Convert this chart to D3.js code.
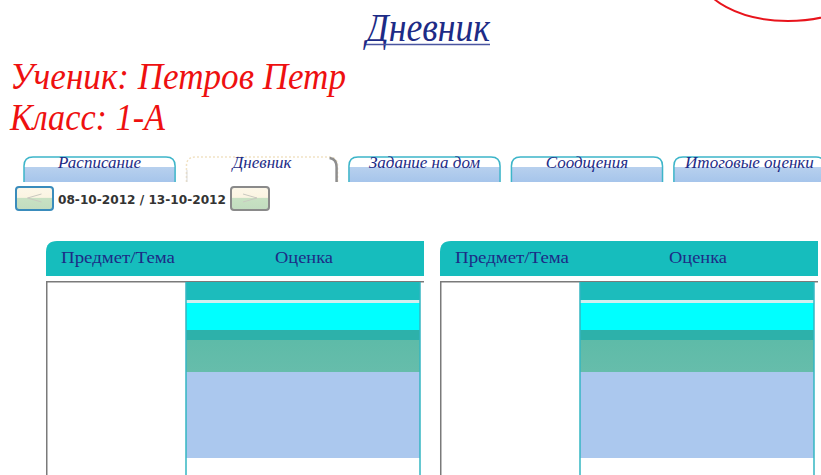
<!DOCTYPE html>
<html lang="ru">
<head>
<meta charset="UTF-8">
<title>Дневник</title>
<script src="https://cdn.jsdelivr.net/npm/d3@7"></script>
<style>
body { margin: 0; background: #fff; }
</style>
</head>
<body>
<div id="page"></div>
<script>
const pageTitle = "Дневник"
const studentLabel = "Ученик:"
const studentName = "Петров Петр"
const classLabel = "Класс:"
const className = "1-А"
const tabs = ["Расписание", "Дневник", "Задание на дом", "Соодщения", "Итоговые оценки"]
const activeTab = "Дневник"
const weekRange = ["08-10-2012", "13-10-2012"]
const columns = ["Предмет/Тема", "Оценка"]
const days = ["Понедельник", "Вторник"]

const width = 821
const height = 475
const navy = "#1d2b86"
const script = "'Liberation Serif', 'DejaVu Serif', serif"

const svg = d3.select("#page")
    .append("svg")
    .attr("width", width)
    .attr("height", height)
    .style("display", "block")

const defs = svg.append("defs")

// gradients with hard stops
const hardGradient = (id, stops) => {
    const g = defs.append("linearGradient")
        .attr("id", id)
        .attr("x1", 0).attr("y1", 0).attr("x2", 0).attr("y2", 1)
    stops.forEach(s => {
        g.append("stop").attr("offset", s[0]).attr("stop-color", s[1])
    })
}
hardGradient("tabFill", [[0, "#ffffff"], [0.4, "#ffffff"], [0.42, "#b7d0ee"], [1, "#a6c5eb"]])
hardGradient("btnFill", [[0, "#fcf7e9"], [0.45, "#fbf4e2"], [0.5, "#c8e1c3"], [1, "#c2dcbf"]])
hardGradient("gradeFill", [
    [0, "#1cbcbc"], [0.092, "#1cbcbc"], [0.093, "#cfefef"], [0.108, "#cfefef"],
    [0.109, "#00ffff"], [0.248, "#00ffff"], [0.249, "#2db1aa"], [0.3, "#2db1aa"],
    [0.301, "#5ebba8"], [0.465, "#66bdab"], [0.466, "#abc8ee"], [0.91, "#abc8ee"],
    [0.911, "#ffffff"], [1, "#ffffff"]
])

// red ellipse in the top right corner
svg.append("ellipse")
    .attr("cx", 788).attr("cy", -26)
    .attr("rx", 87).attr("ry", 47)
    .attr("fill", "none")
    .attr("stroke", "#e8141c")
    .attr("stroke-width", 2)

// title
svg.append("text")
    .attr("x", 428).attr("y", 41)
    .attr("text-anchor", "middle")
    .attr("font-family", script)
    .attr("font-style", "italic")
    .attr("font-size", 40)
    .attr("fill", navy)
    .attr("textLength", 124)
    .attr("lengthAdjust", "spacingAndGlyphs")
    .text(pageTitle)
svg.append("line")
    .attr("x1", 366).attr("x2", 490)
    .attr("y1", 44.5).attr("y2", 44.5)
    .attr("stroke", "#4a55a0")
    .attr("stroke-width", 1.5)

// student and class
const info = [[studentLabel + " " + studentName, 89, 336], [classLabel + " " + className, 130, 155]]
svg.selectAll("text.info")
    .data(info)
    .enter()
    .append("text")
    .attr("class", "info")
    .attr("x", 10)
    .attr("y", d => d[1])
    .attr("font-family", script)
    .attr("font-style", "italic")
    .attr("font-size", 38)
    .attr("fill", "#ee1010")
    .attr("textLength", d => d[2])
    .attr("lengthAdjust", "spacingAndGlyphs")
    .text(d => d[0])

// tabs
const tabX = d3.scaleBand()
    .domain(tabs)
    .range([24, 825])
    .paddingInner(0.07)
const tabTop = 157
const tabBottom = 182
const tabPath = (x, w, r) => `M${x},${tabBottom}V${tabTop + r}Q${x},${tabTop} ${x + r},${tabTop}` +
    `H${x + w - r}Q${x + w},${tabTop} ${x + w},${tabTop + r}V${tabBottom}`

const tab = svg.selectAll("g.tab")
    .data(tabs)
    .enter()
    .append("g")
    .attr("class", "tab")
tab.append("path")
    .attr("d", d => tabPath(tabX(d), tabX.bandwidth(), 9))
    .attr("fill", d => d === activeTab ? "#fff" : "url(#tabFill)")
    .attr("stroke", d => d === activeTab ? "#f1e2c4" : "#3db5c9")
    .attr("stroke-width", 1.5)
    .attr("stroke-dasharray", d => d === activeTab ? "2,2" : null)
tab.filter(d => d === activeTab)
    .append("path")
    .attr("d", d => {
        const x = tabX(d) + tabX.bandwidth()
        return `M${x - 8},${tabTop + 1}Q${x - 1},${tabTop + 2} ${x - 1},${tabTop + 10}V${tabBottom}`
    })
    .attr("fill", "none")
    .attr("stroke", "#8e8e8e")
    .attr("stroke-width", 2.5)
tab.filter(d => d === activeTab)
    .append("line")
    .attr("x1", d => tabX(d) + 0.5).attr("x2", d => tabX(d) + 0.5)
    .attr("y1", 170).attr("y2", tabBottom)
    .attr("stroke", "#d8d8d8")
tab.append("text")
    .attr("x", d => tabX(d) + tabX.bandwidth() / 2)
    .attr("y", 168)
    .attr("text-anchor", "middle")
    .attr("font-family", script)
    .attr("font-style", "italic")
    .attr("font-size", 17)
    .attr("fill", navy)
    .text(d => d)

// week navigation
const buttons = [{x: 16, w: 37, stroke: "#3a8cbc", dir: -1}, {x: 231, w: 38, stroke: "#8a8a8a", dir: 1}]
const btn = svg.selectAll("g.btn")
    .data(buttons)
    .enter()
    .append("g")
    .attr("class", "btn")
btn.append("rect")
    .attr("x", d => d.x).attr("y", 187)
    .attr("width", d => d.w).attr("height", 23)
    .attr("rx", 3)
    .attr("fill", "url(#btnFill)")
    .attr("stroke", d => d.stroke)
    .attr("stroke-width", 2)
btn.append("path")
    .attr("d", d => {
        const cx = d.x + d.w / 2
        return `M${cx + 7 * d.dir},${198}L${cx - 7 * d.dir},${194}M${cx + 7 * d.dir},${198}L${cx - 7 * d.dir},${202}`
    })
    .attr("fill", "none")
    .attr("stroke", "#c9c9c0")
    .attr("stroke-width", 1)
svg.append("text")
    .attr("x", 58).attr("y", 204)
    .attr("font-family", "'DejaVu Sans', Verdana, sans-serif")
    .attr("font-weight", "bold")
    .attr("font-size", 12)
    .attr("fill", "#333")
    .attr("textLength", 168)
    .attr("lengthAdjust", "spacingAndGlyphs")
    .text(weekRange.join(" / "))

// day tables
const tableX = d3.scaleBand()
    .domain(days)
    .range([46, 818])
    .paddingInner(0.0406)
const colX = d3.scaleOrdinal().domain(columns).range([0, 140])
const colW = d3.scaleOrdinal().domain(columns).range([140, 236])
const headTop = 241
const headBottom = 276
const bodyTop = 281

const table = svg.selectAll("g.day")
    .data(days)
    .enter()
    .append("g")
    .attr("class", "day")
    .attr("transform", d => `translate(${tableX(d)},0)`)

const tw = tableX.bandwidth()
table.append("path")
    .attr("d", `M0,${headBottom}V${headTop + 11}Q0,${headTop} 11,${headTop}H${tw}V${headBottom}Z`)
    .attr("fill", "#16bdbd")
table.selectAll("text.head")
    .data(columns)
    .enter()
    .append("text")
    .attr("class", "head")
    .attr("x", c => colX(c) + colW(c) / 2 + (c === columns[0] ? 2 : 0))
    .attr("y", 263)
    .attr("text-anchor", "middle")
    .attr("font-family", script)
    .attr("font-size", 17)
    .attr("fill", navy)
    .attr("textLength", c => c === columns[0] ? 114 : 58)
    .attr("lengthAdjust", "spacingAndGlyphs")
    .text(c => c)

// body frame
table.append("path")
    .attr("d", `M0.75,${height}V${bodyTop + 0.75}H${tw}`)
    .attr("fill", "none")
    .attr("stroke", "#7a7a7a")
    .attr("stroke-width", 1.5)

// grade cell
const gx = colX(columns[1])
const gw = colW(columns[1]) - 2
table.append("rect")
    .attr("x", gx).attr("y", bodyTop + 1)
    .attr("width", gw).attr("height", height - bodyTop - 1)
    .attr("fill", "url(#gradeFill)")
table.selectAll("line.edge")
    .data([gx, gx + gw])
    .enter()
    .append("line")
    .attr("class", "edge")
    .attr("x1", d => d).attr("x2", d => d)
    .attr("y1", bodyTop + 1).attr("y2", height)
    .attr("stroke", "#33b6c2")
    .attr("stroke-width", 1.5)
</script>
</body>
</html>
